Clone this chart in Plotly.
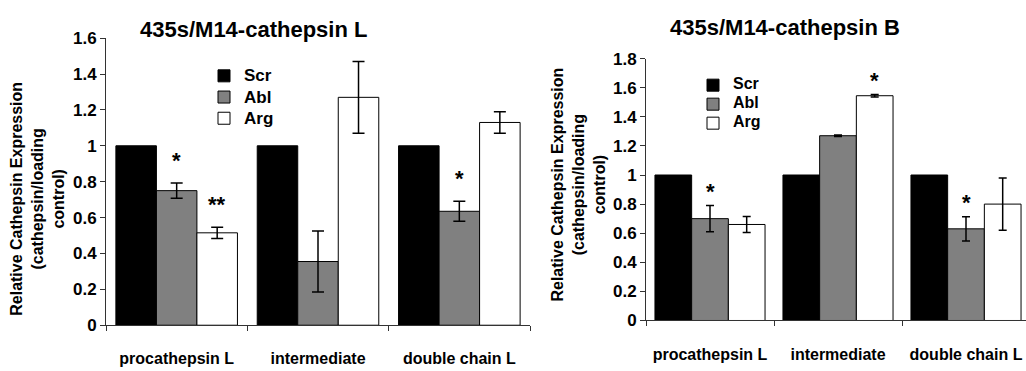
import plotly.graph_objects as go

# Categories and groups
categories = ["procathepsin L", "intermediate", "double chain L"]
groups = ["Scr", "Abl", "Arg"]

# Cathepsin L (relative expression, cathepsin / loading control)
catL_scr = [1.0, 1.0, 1.0]
catL_abl = [0.75, 0.355, 0.635]
catL_arg = [0.515, 1.27, 1.13]
catL_abl_err = [0.042, 0.17, 0.056]
catL_arg_err = [0.031, 0.20, 0.06]
catL_abl_sig = ["*", "", "*"]
catL_arg_sig = ["**", "", ""]

# Cathepsin B
catB_scr = [1.0, 1.0, 1.0]
catB_abl = [0.70, 1.27, 0.63]
catB_arg = [0.66, 1.545, 0.80]
catB_abl_err = [0.09, 0.005, 0.083]
catB_arg_err = [0.055, 0.008, 0.18]
catB_abl_sig = ["*", "", "*"]
catB_arg_sig = ["", "*", ""]

titles = ["435s/M14-cathepsin L", "435s/M14-cathepsin B"]
y_title = "Relative Cathepsin Expression<br>(cathepsin/loading<br>control)"
y_ticks_L = [0, 0.2, 0.4, 0.6, 0.8, 1, 1.2, 1.4, 1.6]
y_ticks_B = [0, 0.2, 0.4, 0.6, 0.8, 1, 1.2, 1.4, 1.6, 1.8]

FONT = "Arial, Liberation Sans, sans-serif"
W, H = 1026, 371
fill = {"Scr": "#000000", "Abl": "#808080", "Arg": "#ffffff"}

fig = go.Figure()

# legend rows are spaced by the legend font size; the visible label size is
# set separately so the entries stay compact
panels = [
    dict(xa="x", ya="y", legend="legend", gap=0.14, cap=6, shift=8, label_px=17,
         vals=[catL_scr, catL_abl, catL_arg],
         errs=[None, catL_abl_err, catL_arg_err],
         sigs=[None, catL_abl_sig, catL_arg_sig]),
    dict(xa="x2", ya="y2", legend="legend2", gap=0.14, cap=4, shift=0, label_px=16,
         vals=[catB_scr, catB_abl, catB_arg],
         errs=[None, catB_abl_err, catB_arg_err],
         sigs=[None, catB_abl_sig, catB_arg_sig]),
]

annotations = []
for p in panels:
    for gi, (name, v, e) in enumerate(zip(groups, p["vals"], p["errs"])):
        fig.add_trace(go.Bar(
            x=categories, y=v,
            name='<span style="font-size:%dpx"><b>%s</b></span>' % (p["label_px"], name),
            xaxis=p["xa"], yaxis=p["ya"], legend=p["legend"],
            marker=dict(color=fill[name], line=dict(color="#000000", width=1)),
            error_y=(dict(type="data", array=e, visible=True, color="#000000",
                          thickness=1.5, width=p["cap"]) if e else None),
        ))
    # significance marks above the error bars
    bw = (1 - p["gap"]) / 3
    for gi in (1, 2):
        for ci, s in enumerate(p["sigs"][gi]):
            if not s:
                continue
            annotations.append(dict(
                x=ci + (gi - 1) * bw, y=p["vals"][gi][ci] + p["errs"][gi][ci],
                xref=p["xa"], yref=p["ya"], text="<b>%s</b>" % s,
                showarrow=False, yanchor="bottom", yshift=p["shift"],
                font=dict(family=FONT, size=22, color="#000000"),
            ))

# panel titles
annotations.append(dict(x=253 / W, y=1 - 22 / H, xref="paper", yref="paper",
                        text="<b>%s</b>" % titles[0], showarrow=False,
                        xanchor="center", yanchor="middle",
                        font=dict(family=FONT, size=22, color="#000000")))
annotations.append(dict(x=785 / W, y=1 - 20 / H, xref="paper", yref="paper",
                        text="<b>%s</b>" % titles[1], showarrow=False,
                        xanchor="center", yanchor="middle",
                        font=dict(family=FONT, size=22, color="#000000")))
# y-axis titles
for xc, yc in ((38, 200), (579, 185)):
    annotations.append(dict(x=xc / W, y=1 - yc / H, xref="paper", yref="paper",
                            text="<b>%s</b>" % y_title, showarrow=False,
                            textangle=-90, xanchor="center", yanchor="middle",
                            font=dict(family=FONT, size=16, color="#000000")))

xaxis_common = dict(
    type="category", tickson="boundaries", ticks="outside", ticklen=5,
    tickcolor="#333333", showline=True, linecolor="#333333", linewidth=1,
    showgrid=False, zeroline=False, ticklabelstandoff=19,
    tickfont=dict(family=FONT, size=16, color="#000000"),
    tickprefix="<b>", ticksuffix="</b>",
)
yaxis_common = dict(
    ticks="outside", ticklen=5, tickcolor="#333333", showline=True,
    linecolor="#333333", linewidth=1, showgrid=False, zeroline=False,
    tickfont=dict(family=FONT, size=17, color="#000000"),
)

fig.update_layout(
    width=W, height=H, margin=dict(l=0, r=0, t=0, b=0),
    paper_bgcolor="#ffffff", plot_bgcolor="#ffffff",
    barmode="group", bargap=0.14, bargroupgap=0,
    font=dict(family=FONT, color="#000000"),
    xaxis=dict(xaxis_common, domain=[106 / W, 530 / W], range=[-0.5, 2.5],
               anchor="y"),
    yaxis=dict(yaxis_common, domain=[1 - 333.3 / H, 1 - 30.7 / H],
               range=[0, 1.6], tickvals=y_ticks_L,
               ticktext=["<b>%g</b>" % t for t in y_ticks_L], anchor="x"),
    xaxis2=dict(xaxis_common, domain=[646 / W, 1.0], range=[-0.5, 2.46875],
                anchor="y2"),
    yaxis2=dict(yaxis_common, domain=[1 - 328.3 / H, 1 - 52.3 / H],
                range=[0, 1.8], tickvals=y_ticks_B,
                ticktext=["<b>%g</b>" % t for t in y_ticks_B], anchor="x2"),
    legend=dict(x=204 / W, y=1 - 54 / H, xanchor="left", yanchor="top",
                bgcolor="rgba(0,0,0,0)", borderwidth=0,
                font=dict(family=FONT, size=14, color="#000000"),
                itemclick=False),
    legend2=dict(x=693 / W, y=1 - 65 / H, xanchor="left", yanchor="top",
                 bgcolor="rgba(0,0,0,0)", borderwidth=0,
                 font=dict(family=FONT, size=11, color="#000000"),
                 itemclick=False),
    annotations=annotations,
    showlegend=True,
)

fig.write_html("out.html")
